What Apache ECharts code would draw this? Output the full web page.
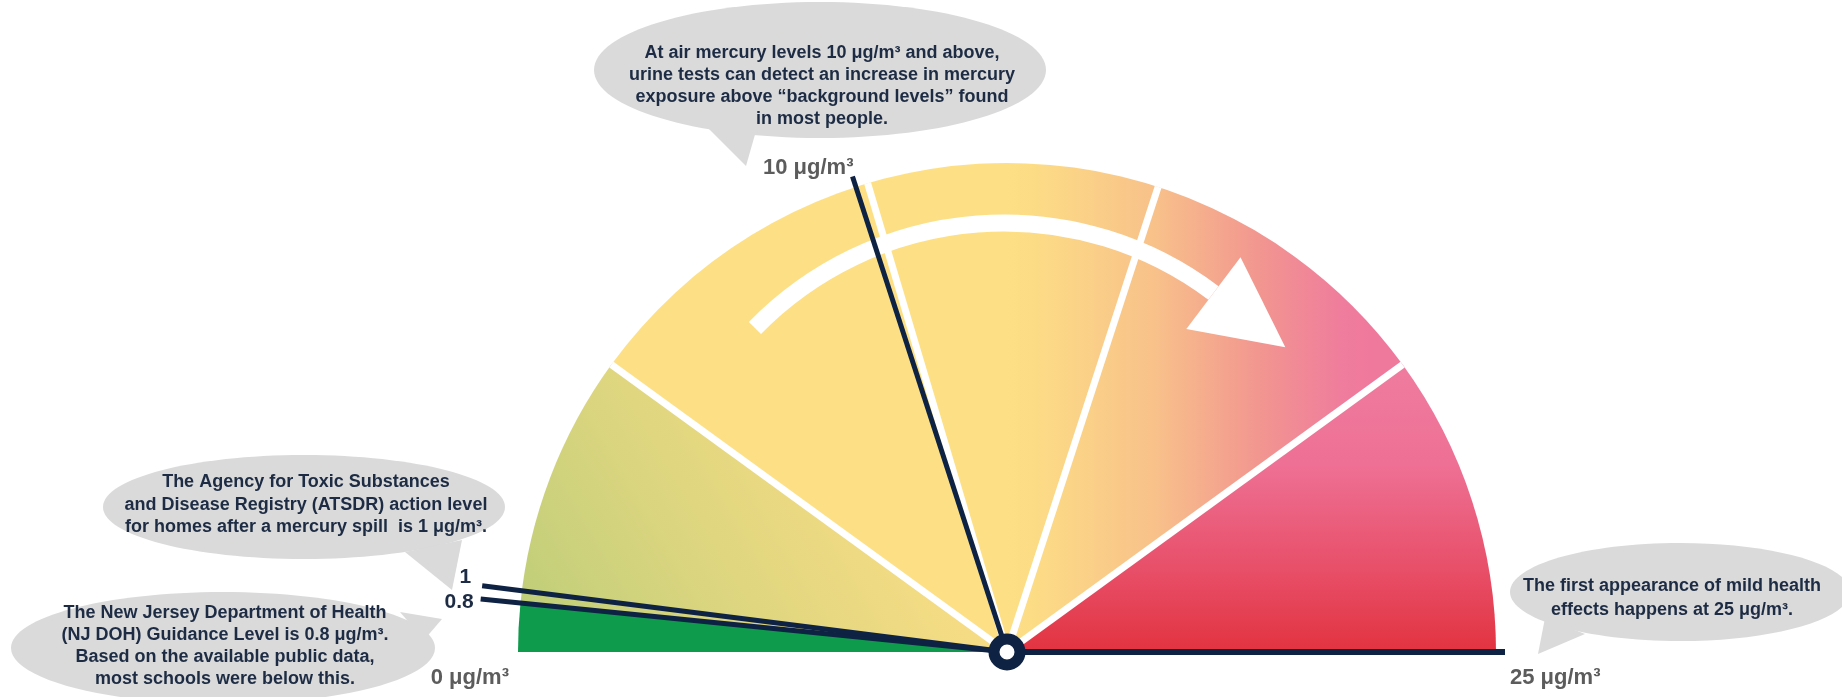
<!DOCTYPE html>
<html>
<head>
<meta charset="utf-8">
<script src="https://cdn.jsdelivr.net/npm/echarts@6/dist/echarts.min.js"></script>
<style>
html,body{margin:0;padding:0;background:#ffffff;}
#chart{width:1842px;height:697px;}
</style>
</head>
<body>
<div id="chart"></div>
<script>
// ---------- data ----------
const AXIS_MIN = 0;
const AXIS_MAX = 25;
const bandEnds = [0.8, 5, 20, 25];           // colour band boundaries (μg/m³)
const separatorValues = [5, 10.2, 15, 20];   // white dividers
const guideValues = [0.8, 1];                // NJ DOH guidance, ATSDR action level
const guideLabels = ['0.8', '1'];
const urineValue = 10;
const effectValue = 25;
const zeroLabel = '0 μg/m³';
const urineLabel = '10 μg/m³';
const effectLabel = '25 μg/m³';
const noteUrine = 'At air mercury levels 10 μg/m³ and above,\nurine tests can detect an increase in mercury\nexposure above “background levels” found\nin most people.';
const noteAtsdr = 'The Agency for Toxic Substances\nand Disease Registry (ATSDR) action level\nfor homes after a mercury spill  is 1 μg/m³.';
const noteNjdoh = 'The New Jersey Department of Health\n(NJ DOH) Guidance Level is 0.8 μg/m³.\nBased on the available public data,\nmost schools were below this.';
const noteEffect = 'The first appearance of mild health\neffects happens at 25 μg/m³.';

// ---------- layout / style ----------
const CX = 1007, CY = 652, R = 489;
const NAVY = '#0e2243';
const TEXT_NAVY = '#1d2c44';
const GRAY_TEXT = '#5c5c5c';
const BUBBLE = '#dadada';
const FONT_NOTE = 'bold 18px "Liberation Sans", Arial, sans-serif';
const FONT_LABEL = 'bold 22px "Liberation Sans", Arial, sans-serif';

function frac(v){ return (v - AXIS_MIN) / (AXIS_MAX - AXIS_MIN); }
function polar(v, r){
  const a = Math.PI * (1 - frac(v));
  return [CX + r * Math.cos(a), CY - r * Math.sin(a)];
}

const green = '#0f9b4c';
const gradLow = new echarts.graphic.LinearGradient(0, 1, 1, 0, [
  {offset: 0, color: '#bccd78'},
  {offset: 0.35, color: '#dcd57f'},
  {offset: 0.7, color: '#f5dc84'},
  {offset: 1, color: '#fde085'}
]);
const gradMid = {
  type: 'linear', x: CX, y: 0, x2: CX + 370, y2: 0, global: true,
  colorStops: [
    {offset: 0, color: '#fde085'},
    {offset: 0.1, color: '#fcda86'},
    {offset: 0.4, color: '#f8c18a'},
    {offset: 0.68, color: '#f29690'},
    {offset: 0.9, color: '#ef7d9c'},
    {offset: 1, color: '#ef789d'}
  ]
};
const gradHigh = new echarts.graphic.LinearGradient(0, 0, 0, 1, [
  {offset: 0, color: '#ef7ca0'},
  {offset: 0.35, color: '#ee7094'},
  {offset: 0.7, color: '#e8506a'},
  {offset: 1, color: '#e23340'}
]);
const bandColors = [green, gradLow, gradMid, gradHigh];

const off = {
  axisTick: {show: false}, splitLine: {show: false}, axisLabel: {show: false},
  progress: {show: false}, title: {show: false}, detail: {show: false}
};

function needleSeries(values, len, width, color, z, withAnchor){
  return Object.assign({}, off, {
    type: 'gauge', center: [CX, CY], radius: R,
    min: AXIS_MIN, max: AXIS_MAX, startAngle: 180, endAngle: 0,
    axisLine: {show: false, lineStyle: {width: 0}},
    pointer: {show: true, icon: 'rect', length: len, width: width, offsetCenter: [0, 0], itemStyle: {color: color}},
    itemStyle: {color: color},
    anchor: withAnchor ? {show: true, showAbove: true, size: 26, itemStyle: {color: '#ffffff', borderColor: NAVY, borderWidth: 11}} : {show: false},
    data: values.map(v => ({value: v, itemStyle: {color: color}})),
    z: z, silent: true, animation: false
  });
}

const series = [
  Object.assign({}, off, {
    type: 'gauge', center: [CX, CY], radius: R,
    min: AXIS_MIN, max: AXIS_MAX, startAngle: 180, endAngle: 0,
    axisLine: {show: true, lineStyle: {width: R, color: bandEnds.map((v, i) => [frac(v), bandColors[i]])}},
    pointer: {show: false}, anchor: {show: false},
    data: [], z: 2, silent: true, animation: false
  }),
  needleSeries(separatorValues, R, 7, '#ffffff', 3, false),
  needleSeries(guideValues, 529, 5, NAVY, 10, false),
  needleSeries([urineValue], 500, 5, NAVY, 10, false),
  needleSeries([effectValue], 498, 6, NAVY, 11, true)
];

// white curved arrow (decoration)
const ARC_C = [1004, 571], ARC_R = 348;
const a0 = -135.7 * Math.PI / 180, a1 = -53 * Math.PI / 180;
const mid = [ARC_C[0] + ARC_R * Math.cos(a1), ARC_C[1] + ARC_R * Math.sin(a1)];
const tan = [-Math.sin(a1), Math.cos(a1)], nrm = [Math.cos(a1), Math.sin(a1)];
const head = [
  [mid[0] - 45 * nrm[0], mid[1] - 45 * nrm[1]],
  [mid[0] + 90 * tan[0], mid[1] + 90 * tan[1]],
  [mid[0] + 45 * nrm[0], mid[1] + 45 * nrm[1]]
];

function bubble(cx, cy, rx, ry, tail, text, tx, ty, lh){
  return [
    {type: 'ellipse', shape: {cx, cy, rx, ry}, style: {fill: BUBBLE}, z: 1, silent: true},
    {type: 'polygon', shape: {points: tail}, style: {fill: BUBBLE}, z: 1, silent: true},
    {type: 'text', x: tx, y: ty, z: 2, silent: true,
     style: {text, align: 'center', verticalAlign: 'middle', font: FONT_NOTE, fill: TEXT_NAVY, lineHeight: lh}}
  ];
}

const e10 = polar(urineValue, 500);
const g08 = polar(guideValues[0], 529);
const g1 = polar(guideValues[1], 529);

const graphics = [].concat(
  bubble(820, 70, 226, 68, [[706, 126], [756, 131], [746, 166]], noteUrine, 822, 86, 22),
  bubble(304, 507, 201, 52, [[405, 552], [462, 540], [452, 590]], noteAtsdr, 306, 505, 22.5),
  bubble(223, 648, 212, 56, [[400, 612], [424, 640], [442, 619]], noteNjdoh, 225, 646, 22),
  bubble(1680, 592, 170, 49, [[1545, 618], [1585, 634], [1538, 654]], noteEffect, 1672, 598, 24),
  [
    {type: 'arc', shape: {cx: ARC_C[0], cy: ARC_C[1], r: ARC_R, startAngle: a0, endAngle: a1, clockwise: true},
     style: {stroke: '#ffffff', lineWidth: 17, fill: null, lineCap: 'butt'}, z: 4, silent: true},
    {type: 'polygon', shape: {points: head}, style: {fill: '#ffffff'}, z: 4, silent: true},
    {type: 'text', x: CX - R - 9, y: CY + 26, z: 5, silent: true,
     style: {text: zeroLabel, align: 'right', verticalAlign: 'middle', font: FONT_LABEL, fill: GRAY_TEXT}},
    {type: 'text', x: CX + R + 14, y: CY + 26, z: 5, silent: true,
     style: {text: effectLabel, align: 'left', verticalAlign: 'middle', font: FONT_LABEL, fill: GRAY_TEXT}},
    {type: 'text', x: e10[0] + 1, y: e10[1] - 9, z: 5, silent: true,
     style: {text: urineLabel, align: 'right', verticalAlign: 'middle', font: FONT_LABEL, fill: GRAY_TEXT}},
    {type: 'text', x: g08[0] - 7, y: g08[1] + 3, z: 5, silent: true,
     style: {text: guideLabels[0], align: 'right', verticalAlign: 'middle', font: 'bold 21px "Liberation Sans", Arial, sans-serif', fill: TEXT_NAVY}},
    {type: 'text', x: g1[0] - 11, y: g1[1] - 8, z: 5, silent: true,
     style: {text: guideLabels[1], align: 'right', verticalAlign: 'middle', font: 'bold 21px "Liberation Sans", Arial, sans-serif', fill: TEXT_NAVY}}
  ]
);

const chart = echarts.init(document.getElementById('chart'), null, {renderer: 'canvas'});
chart.setOption({
  backgroundColor: '#ffffff',
  animation: false,
  series: series,
  graphic: {elements: graphics}
});
</script>
</body>
</html>
